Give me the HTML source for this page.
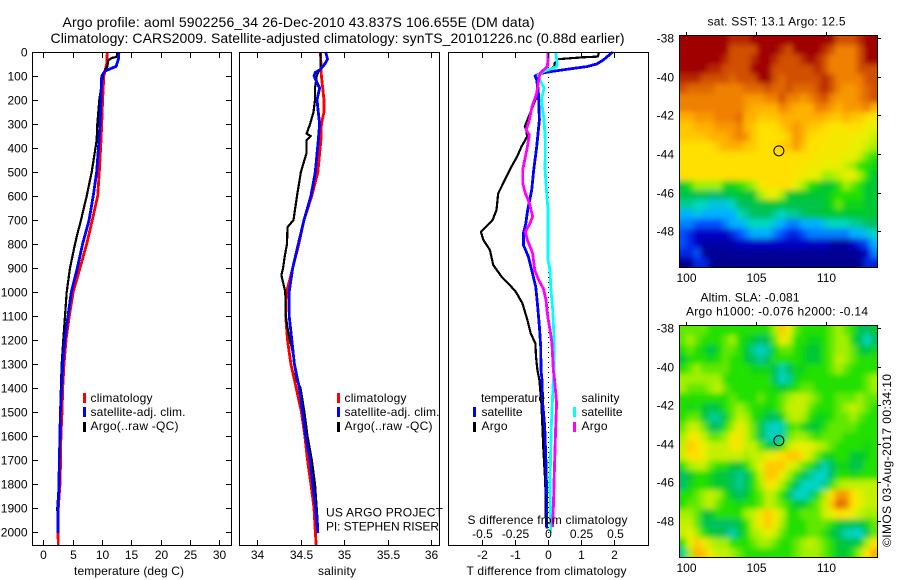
<!DOCTYPE html>
<html lang="en">
<head>
<meta charset="utf-8">
<title>Argo profile 5902256_34</title>
<style>
html,body{margin:0;padding:0;background:#fff;}
svg{display:block;font-family:"Liberation Sans",sans-serif;font-size:12px;fill:#000;}
.line{fill:none;stroke-width:2.8;shape-rendering:crispEdges;stroke-linejoin:round;}
.thin{stroke-width:2.2;}
.frame{fill:none;stroke:#000;stroke-width:1;shape-rendering:crispEdges;}
.tick{stroke:#000;stroke-width:1;shape-rendering:crispEdges;}
</style>
</head>
<body>
<svg id="chart" xmlns="http://www.w3.org/2000/svg" width="900" height="580" viewBox="0 0 900 580">
<defs>
<filter id="soften" x="-10%" y="-10%" width="120%" height="120%"><feGaussianBlur stdDeviation="3"/></filter>
<clipPath id="clip-sst"><rect x="679" y="35" width="198" height="232"/></clipPath>
<clipPath id="clip-sla"><rect x="679" y="325" width="198" height="232"/></clipPath>
</defs>
<rect x="0" y="0" width="900" height="580" fill="#fff"/>
<text x="62.5" y="27" font-size="14" textLength="472">Argo profile: aoml 5902256_34 26-Dec-2010 43.837S 106.655E (DM data)</text>
<text x="50.5" y="43" font-size="14" textLength="574">Climatology: CARS2009. Satellite-adjusted climatology: synTS_20101226.nc (0.88d earlier)</text>

<g id="p1"></g>
<g id="p2"></g>
<g id="p3"></g>

<g>
<rect x="83" y="393" width="3" height="10" fill="#f00"/>
<rect x="83" y="407" width="3" height="10" fill="#00f"/>
<rect x="83" y="422" width="3" height="10" fill="#000"/>
<text x="90.5" y="402" textLength="62">climatology</text>
<text x="90.5" y="416" textLength="95">satellite-adj. clim.</text>
<text x="90.5" y="430" textLength="88">Argo(..raw -QC)</text>
</g>
<g>
<rect x="337" y="393" width="3" height="10" fill="#f00"/>
<rect x="337" y="407" width="3" height="10" fill="#00f"/>
<rect x="337" y="422" width="3" height="10" fill="#000"/>
<text x="344.5" y="402" textLength="62">climatology</text>
<text x="344.5" y="416" textLength="95">satellite-adj. clim.</text>
<text x="344.5" y="430" textLength="88">Argo(..raw -QC)</text>
</g>
<text x="326" y="516.5" textLength="117">US ARGO PROJECT</text>
<text x="326" y="530.5" textLength="113">PI: STEPHEN RISER</text>
<g>
<text x="481" y="402" textLength="64">temperature</text>
<text x="581.5" y="402" textLength="38">salinity</text>
<rect x="473" y="407" width="3" height="10" fill="#00f"/>
<rect x="473" y="422" width="3" height="10" fill="#000"/>
<rect x="573" y="407" width="3" height="10" fill="#0ff"/>
<rect x="573" y="422" width="3" height="10" fill="#f0f"/>
<text x="481.5" y="416" textLength="41">satellite</text>
<text x="481.5" y="430" textLength="26">Argo</text>
<text x="581.5" y="416" textLength="41">satellite</text>
<text x="581.5" y="430" textLength="26">Argo</text>
</g>
<text x="467.5" y="524" textLength="160">S difference from climatology</text>
<text x="74" y="575" textLength="110">temperature (deg C)</text>
<text x="318" y="575" textLength="38">salinity</text>
<text x="466.5" y="575" textLength="160">T difference from climatology</text>

<g id="m1"></g>
<g id="m2"></g>
<text x="707.5" y="25.5" textLength="138">sat. SST: 13.1  Argo: 12.5</text>
<text x="700.5" y="301.5" textLength="99">Altim. SLA: -0.081</text>
<text x="686" y="315.5" textLength="182">Argo h1000: -0.076 h2000: -0.14</text>
<text transform="translate(891 547) rotate(-90)" textLength="173">©IMOS 03-Aug-2017 00:34:10</text>
</svg>
<script>
// ---- tick labels ----
const depthTicks = [0,100,200,300,400,500,600,700,800,900,1000,1100,1200,1300,1400,1500,1600,1700,1800,1900,2000];
const tempTicks = [0,5,10,15,20,25,30];
const salTicks = [34,34.5,35,35.5,36];
const tDiffTicks = [-2,-1,0,1,2];
const sDiffTicks = [-0.5,-0.25,0,0.25,0.5];
const lonTicks = [100,105,110];
const latTicks = [38,40,42,44,46,48];
const profileLon = 106.655;
const profileLat = 43.837;

// ---- temperature profiles ----
const tClimDepth = [0,50,100,200,300,367,500,600,700,800,900,1000,1100,1200,1300,1400,1500,1600,1700,1800,1900,2000,2054];
const tClimValue = [10.9,10.8,10.3,10.1,9.95,9.83,9.54,9.26,8.35,7.39,6.25,5.1,4.43,3.87,3.53,3.3,3.18,3.0,2.95,2.84,2.56,2.5,2.55];
const tSatDepth = [0,30,60,70,80,100,200,300,367,500,600,700,800,900,1000,1100,1200,1300,1400,1500,1600,1700,1800,1900,2005];
const tSatValue = [12.9,12.8,12.4,11.4,10.5,9.95,9.83,9.66,9.49,9.1,8.5,7.8,6.7,5.8,4.77,4.2,3.64,3.3,3.13,2.9,2.85,2.72,2.67,2.5,2.5];
const tArgoDepth = [0,20,25,35,60,90,200,300,367,500,600,700,760,800,900,1000,1100,1200,1300,1400,1500,1600,1700,1800,1900,1980];
const tArgoValue = [12.6,12.5,11.65,11.07,10.9,10.2,9.54,9.2,9.1,8.24,7.4,6.42,5.8,5.4,4.55,3.98,3.7,3.4,3.13,3.0,2.9,2.85,2.67,2.67,2.39,2.45];

// ---- salinity profiles ----
const sClimDepth = [0,100,150,200,250,300,367,500,600,700,800,900,1000,1100,1200,1300,1400,1500,1600,1700,1800,1900,2000,2054];
const sClimValue = [34.73,34.74,34.755,34.77,34.77,34.74,34.735,34.70,34.63,34.54,34.48,34.41,34.34,34.33,34.35,34.39,34.45,34.51,34.55,34.58,34.62,34.655,34.67,34.68];
const sSatDepth = [0,30,50,75,85,100,150,200,300,367,500,600,700,800,900,1000,1100,1200,1300,1400,1500,1600,1700,1800,1900,2005];
const sSatValue = [34.79,34.81,34.78,34.72,34.67,34.655,34.72,34.69,34.72,34.705,34.67,34.62,34.54,34.475,34.41,34.37,34.37,34.4,34.43,34.486,34.525,34.56,34.61,34.64,34.675,34.7];
const sArgoDepth = [0,70,85,100,150,200,250,300,340,350,367,420,500,600,700,730,800,850,900,930,1000,1100,1170,1250,1367,1400,1500,1600,1700,1800,1900,1980];
const sArgoValue = [34.73,34.73,34.705,34.686,34.667,34.667,34.65,34.61,34.57,34.617,34.57,34.57,34.505,34.46,34.42,34.35,34.345,34.32,34.3,34.28,34.325,34.33,34.36,34.41,34.455,34.5,34.545,34.58,34.63,34.667,34.686,34.7];

// ---- differences from climatology ----
const dtArgoDepth = [0,19,22,30,47,58,82,96,124,172,228,311,325,353,395,436,485,547,589,658,700,749,783,825,887,936,971,999,1047,1117,1172,1214,1269,1325,1367,1464,1658,1797,1979];
const dtArgoValue = [1.54,1.5,1.05,0.3,0.2,0.2,0,-0.34,-0.34,-0.3,-0.46,-0.7,-0.65,-0.63,-0.8,-0.93,-1.13,-1.35,-1.5,-1.55,-1.67,-2.02,-1.95,-1.75,-1.65,-1.4,-1.15,-0.97,-0.77,-0.62,-0.52,-0.38,-0.36,-0.32,-0.26,-0.2,-0.14,-0.08,-0.06];
const dtSatDepth = [0,33,50,61,72,82,90,100,124,172,283,395,492,575,658,714,756,804,853,908,978,1047,1144,1228,1325,1367,1464,1561,1714,1853,1986];
const dtSatValue = [1.95,1.67,1.47,1.17,0.57,0.06,-0.24,-0.39,-0.32,-0.29,-0.26,-0.34,-0.43,-0.49,-0.61,-0.67,-0.74,-0.74,-0.59,-0.49,-0.37,-0.32,-0.26,-0.22,-0.21,-0.18,-0.16,-0.1,-0.06,-0.04,-0.04];
const dsSatDepth = [0,47,61,82,96,117,150,200,283,367,492,589,658,749,867,908,978,1075,1186,1325,1367,1464,1561,1658,1797,1979,2005];
const dsSatValue = [0.058,0.07,0.066,-0.036,-0.075,-0.06,-0.03,-0.05,-0.03,-0.02,-0.022,-0.01,0,0,0,0.015,0.02,0.035,0.045,0.047,0.04,0.032,0.025,0.02,0.015,0.02,0.02];
const dsArgoDepth = [0,33,61,88,117,172,228,283,325,345,395,492,547,589,630,686,714,749,783,839,908,950,985,1033,1089,1158,1214,1325,1367,1464,1561,1658,1797,1908,1979];
const dsArgoValue = [0,0,-0.005,-0.06,-0.07,-0.085,-0.12,-0.14,-0.165,-0.14,-0.155,-0.19,-0.19,-0.17,-0.14,-0.115,-0.135,-0.17,-0.155,-0.115,-0.1,-0.07,-0.035,-0.015,-0.005,0.015,0.03,0.04,0.05,0.065,0.058,0.053,0.045,0.04,0.035];

// ---- map grids (colour-scale levels, north row first) ----
const sstRows = [
[14,14,14,14,14,14,14,13.5,13.5,13.5,14,14,14,14,14,14,14,14,14,14,14,14,13,13,13,13.5,14,14],
[14,14,14,14,14,14,14,13,13,13,13,14,14,14,13.5,13,14,14,14,14,13.5,13,12,12,12,13,14,14],
[14,14,14,14,14,14,13.5,13,13,13,13.5,14,14,13.5,13,13,13,13.5,14,13.5,13,12,12,12,12,13,14,14],
[14,14,14,14,13.5,13.5,13,13,13,13,14,14,14,13,13,13,13,13,13,13.5,13,12,12,12,12,13,13,13],
[13.5,13.5,13.5,13,13,13,13,12.5,13,13,13,14,14,13,12.5,13,13,13,13,13,13.5,13,12,12,12,12,13,13],
[13,12.5,12.5,12.5,12.5,12,12,12,12,12.5,12.5,12.5,13,12.5,12.5,13,12.5,12.5,12.5,13,13.5,13,12,11.5,11.5,12,12.5,13],
[12,12,12,12,12,12,12,12,12,11.5,11.5,11.5,12,12,13,12,12,11.5,12,12.5,13,12,11.5,11.5,11.5,12,12.5,13],
[12,12,12,12,12,12,12,12,12,11.5,11,11,11,11,12,11.5,11,11,11,12,12,11.5,11,11.5,11.5,11.5,12,11],
[11,11,11.5,11.5,11.5,12,12,12,12.5,11,11,10.5,10.5,10.5,11,11,11,11,11,11,11,10.5,10.5,11,10.5,10.5,10,9.5],
[10.5,10.5,11,11,11,11.5,11.5,11.5,12,11,10.5,10,10,10,10.5,11,11.5,11,10.5,10.5,10,10,9.5,10,10,10,9,9],
[10.5,10.5,10.5,10.5,11,11,11,11.5,12,11.5,10.5,10,10,10,10,10.5,11.5,11,10,10,10,9.5,9.5,9.5,9.5,9,9,8.5],
[10,10,10,10,10,10.5,11,11,11,10.5,10.5,10,10,10,10.5,10.5,11.5,10.5,10,10,9.5,9.5,9.5,9.5,9,9,8.5,8],
[10,10,10,10,10,10,10,10,10,10,10,10,10,10,10,10,10,10,10,9.5,9.5,9.5,9.5,9,9,8.5,7.5,7],
[10,10,10,10,10,10,10,10,10,10,10,10,10,10,10,10,10,9.5,9.5,9.5,9,9,9,8.5,8,7,7,6.5],
[10,10,10,10,10,10,10,10,10,10,10,10,10,10,10,10,9.5,9.5,9,9,8,8,8.5,9,9,8,7,6],
[6,7,8,8,8,8,6.5,6.5,7,7.5,8,9.5,10,10,10,10,9,8,7,6.5,6,6,7,8,7.5,7,6,6],
[5.5,5.5,5.5,5.5,5,5,5.5,5.5,6,6,6,8,9,9,8,6,6,6,6,6,6,6.5,7,7,7,7,6,6],
[4.5,4.5,4,4,3.5,3.5,3.5,4,5,5,5.5,5.5,6,6,6,5.5,5.5,5.5,5.5,5.5,6,6.5,7.5,6.5,6.5,6.5,6,6],
[3,3,3.5,3,3,3,3,3,4,4.5,5,5,5,4.5,4,4.5,4.5,5,5.5,5.5,6,6,6,6,6,6,6,6],
[2.5,2.5,2,2,2,2,2.5,3,3,3.5,4,4,4,3.5,3,2.5,2.5,3,3,3,3.5,4,4,4,4.5,4.5,5,5],
[2,1.5,1,1,1,1,1,1.5,2,2.5,3,3,3,2.5,2,1.5,1.5,2,2.5,2.5,2.5,2.5,2.5,2.5,3,3,3.5,4],
[2,1.5,1,0.5,0.5,0.5,0.5,0.5,1,1,1,1,1,1,1,1,1,1,1,1,1,0.5,0.5,0.5,1,1.5,2,3],
[1.5,1.5,2,0.3,0.3,0.3,0.3,0.3,0.3,0.3,0.3,0.3,0.3,0.3,0.3,0.3,0.3,0.3,0.3,0.3,0.3,0.3,0.3,0.3,0.3,0.5,1,2.5],
[0.3,0.3,1.5,1.5,0.3,0.2,0.2,0.2,0.2,0.2,0.2,0.2,0.2,0.2,0.2,0.2,0.2,0.2,0.2,0.2,0.2,0.2,0.2,0.2,0.2,0.2,1.5,1.5]
];
const slaRows = [
[7.5,7.5,7.5,7.5,7,7,7,7,7,7,7,7,7,8,10.5,9,7.5,7,7,7,7,7.5,8,7.5,7,5.5,5,6],
[7.5,8,7.5,7,7,7,7.5,8,7,6.5,6,5,5.5,7.5,9.5,8.5,7,7,6.5,6.5,7,7.5,8,8,6.5,5,4,5],
[7,7.5,7,6.5,5.5,6.5,7.5,7.5,7,6,4.5,3.8,4.5,6.5,7.5,7.5,7,6.5,6,6,7,7.5,8,8,7.5,6,5.5,6.5],
[6,7,7,7,6.5,7,7.5,7,7,6,5,4.5,5,7,7,7,7,6.5,6,6,7,7.5,8.5,8,7.5,7,7,7],
[7,7.5,8,7.5,7.5,7.5,7.5,7,7,7,6.5,6.5,6.5,5.5,4.2,5,6.5,6.5,7,7,7,7.5,8,7.5,7,7,7,7],
[8,8,8,8,8,8,7,7,7,7,7,7,7,5,3.9,4.5,6.5,7,7,7,7,7,7,7,7,7,7.5,8],
[8,7.5,7.5,7.5,8,8.5,7.5,7,7,7,7,7,7,6.5,6,6.5,7,7.5,7.5,7,7,7,7,7,7,7,7.5,8],
[7,7,7,7,7,7,7,7.5,7,7,7,7.5,7,7,7.5,8,8.5,8.5,8,7.5,7,7,7.5,7.5,7.5,8,7.5,7.5],
[7,6.5,7,6,5.5,6,7,7.5,8,7.5,7,7,6.5,7,7.5,8.5,8.5,8.5,7.5,7,7,7,7.5,8,8.5,8,7.5,7],
[7,7.5,7.5,6,4.5,4.5,6,7.5,8.5,8,7,6.5,5.5,5,6.5,8,8.5,8,7,6.5,6.5,7,7.5,7.5,8,7.5,7,7],
[7.5,8.5,8.5,7.5,5.5,5,7,8,9,8.5,7.5,5.5,4.2,3.8,4.2,7,7.5,6.5,6,6,7,7.5,7.5,7.5,7.5,7,7,7],
[8,9.5,9.5,8.5,7.5,7.5,8,9.5,9.5,8.5,7.5,5.5,4.2,3.8,4.5,7.5,8,8,7.5,7,7.5,7.5,7.5,7,7,7,7,7],
[8.5,10.5,10,9,8.5,8.5,8.5,9.5,9.5,8.5,8.5,7.5,6,5.5,7,8.5,9,9,9,8.5,8,7.5,7,7,7,7,6.5,7],
[8.5,10,10,9,8.5,8.5,8.5,8.5,8.5,8,8.5,8.5,9,9.5,10,10.5,10.5,9.5,8.5,7.5,6.5,6.5,7,7,6,6,6.5,7],
[7,8,8.5,8.5,7.5,7,7,6,6,7,8,9,10.5,10.5,10.5,9,8.5,7.5,7,5.5,4.2,5,6.5,6.5,5.5,5.5,7,7],
[5,6,7,7,6.5,6,5.5,5,4.5,5,7,8.5,10.5,10.5,9,8,7,5.5,4.5,3.9,3.9,5,7,7,6.5,7,7,7],
[5,6.5,7,7,6.5,6,6,5,4.5,5.5,7,8,10,9,8,7,5,3.9,3.9,3.9,4.5,7,8,8.5,8.5,8.5,8.5,8.5],
[7,7,7.5,8,8.5,8,7,6,5,6,7,7.5,8.5,8,7,5.5,3.9,3.9,4.5,6.5,8,10,11.5,11.5,10,9,8.5,8.5],
[7,7.5,7.5,8,8.5,7.5,7,7,6.5,7,7,7.5,8.5,8,7.5,7,6,6,7,7.5,8.5,10.5,12.5,12,10,9,8.5,8.5],
[8,8,7.5,6,6,7,7,7,7,8,8.5,9.5,10.5,9.5,8.5,7,7,7.5,7.5,7.5,8.5,9,10,9.5,9,8.5,8,8],
[8.5,8.5,7.5,5.5,5,5,5,5,6,7,8.5,9.5,10.5,9.5,8,7,7,7,7.5,7.5,7.5,7,6,5.5,5.5,5.5,6.5,7.5],
[8.5,9,8,7,6,5.5,5,4.2,5.5,7,8,8.5,9,8.5,7.5,7,7,7,7.5,7.5,7,6,5,4.2,3.9,3.8,5.5,7.5],
[7,9,10.5,9.5,8.5,8,8,7,7,7,7.5,8,8,7.5,7,7,7.5,8,8.5,8,7.5,7,6,5.5,5.5,6,8,10],
[4.5,8,11,10.5,9,8.5,8.5,8,7.5,7,7,7,7,7,7,7,7.5,8,8,8,7.5,7,6,6,7,8,10,11]
];
const colourStops = ['#000080','#0000c8','#0050ff','#00b0ff','#00d8c0','#00c060','#00c830','#20e000','#a0f000','#e8f000','#ffe000','#ffb000','#f08000','#d05000','#a00000'];

// ---- axis functions ----
const NS = 'http://www.w3.org/2000/svg';
const svg = document.getElementById('chart');
const depthY = d => 52 + d * 0.24;
const tempX = t => 43.3 + t * 5.87;
const salX = s => 257 + (s - 34) * 87;
const tDiffX = t => 548 + t * 33.2;
const sDiffX = s => 548 + s * 133;
const lonX = lon => 685.7 + (lon - 100) * 14;
const sstLatY = lat => 38 + (lat - 38) * 19.33;
const slaLatY = lat => 328 + (lat - 38) * 19.3;

function make(tag, attrs, parent) {
  const el = document.createElementNS(NS, tag);
  for (const k in attrs) el.setAttribute(k, attrs[k]);
  parent.appendChild(el);
  return el;
}
function tickLine(parent, x1, y1, x2, y2) {
  const el = make('line', {x1: x1, y1: y1, x2: x2, y2: y2, class: 'tick'}, parent);
  
  
  return el;
}
function tickText(parent, x, y, anchor, content) {
  const el = make('text', {x: x, y: y, 'text-anchor': anchor}, parent);
  el.textContent = content;
  
  
  return el;
}
function frame(parent, x, y, w, h) {
  const el = make('rect', {x: x, y: y, width: w, height: h, class: 'frame'}, parent);
  
  
  return el;
}
function profile(parent, depths, values, xFn, colour, cls) {
  const pts = depths.map((d, i) => xFn(values[i]).toFixed(1) + ',' + depthY(d).toFixed(1)).join(' ');
  const el = make('polyline', {points: pts, stroke: colour, class: cls}, parent);
  
  
  return el;
}
function fmt(v) { return String(v); }

// ---- profile panels ----
const p1 = document.getElementById('p1');
const p2 = document.getElementById('p2');
const p3 = document.getElementById('p3');
profile(p1, tClimDepth, tClimValue, tempX, '#f00', 'line');
profile(p1, tArgoDepth, tArgoValue, tempX, '#000', 'line thin');
profile(p1, tSatDepth, tSatValue, tempX, '#00f', 'line');
frame(p1, 32.5, 52.5, 199, 493);
depthTicks.forEach(d => {
  const y = Math.round(depthY(d)) + 0.5;
  tickLine(p1, 33, y, 38, y);
  tickLine(p1, 226, y, 231, y);
  tickText(p1, 27.5, y + 4, 'end', fmt(d));
});
tempTicks.forEach(t => {
  const x = Math.round(tempX(t)) + 0.5;
  tickLine(p1, x, 53, x, 58);
  tickLine(p1, x, 540, x, 545);
  tickText(p1, x, 559, 'middle', fmt(t));
});

profile(p2, sClimDepth, sClimValue, salX, '#f00', 'line');
profile(p2, sArgoDepth, sArgoValue, salX, '#000', 'line thin');
profile(p2, sSatDepth, sSatValue, salX, '#00f', 'line');
frame(p2, 239.5, 52.5, 200, 493);
salTicks.forEach(s => {
  const x = Math.round(salX(s)) + 0.5;
  tickLine(p2, x, 53, x, 58);
  tickLine(p2, x, 540, x, 545);
  tickText(p2, x, 559, 'middle', fmt(s));
});

const zeroLine = make('line', {x1: 548.5, y1: depthY(0), x2: 548.5, y2: 545, stroke: '#000', 'stroke-width': 1, 'stroke-dasharray': '1 4', 'shape-rendering': 'crispEdges'}, p3);


profile(p3, dtArgoDepth, dtArgoValue, tDiffX, '#000', 'line thin');
profile(p3, dtSatDepth, dtSatValue, tDiffX, '#00f', 'line');
profile(p3, dsSatDepth, dsSatValue, sDiffX, '#0ff', 'line');
profile(p3, dsArgoDepth, dsArgoValue, sDiffX, '#f0f', 'line');
frame(p3, 448.5, 52.5, 200, 493);
tDiffTicks.forEach(t => {
  const x = Math.round(tDiffX(t)) + 0.5;
  tickLine(p3, x, 53, x, 58);
  tickLine(p3, x, 540, x, 545);
  tickText(p3, x, 559, 'middle', fmt(t));
});
sDiffTicks.forEach(s => {
  const x = Math.round(sDiffX(s)) + 0.5;
  tickText(p3, x, 538, 'middle', fmt(s));
});

// ---- maps ----
function hexToRgb(h) {
  return [parseInt(h.slice(1, 3), 16), parseInt(h.slice(3, 5), 16), parseInt(h.slice(5, 7), 16)];
}
function levelColour(v) {
  const lo = Math.max(0, Math.min(colourStops.length - 1, Math.floor(v)));
  const hi = Math.min(colourStops.length - 1, lo + 1);
  const f = v - lo;
  const a = hexToRgb(colourStops[lo]);
  const b = hexToRgb(colourStops[hi]);
  return 'rgb(' + a.map((c, i) => Math.round(c + (b[i] - c) * f)).join(',') + ')';
}
function drawMap(group, rows, latY, top, clipId) {
  const west = 100 - 6.4 / 14;
  const dLon = 198.4 / 14 / 28;
  const dLat = 232 / (latY(39) - latY(38)) / 24;
  const north = 38 - (latY(38) - top) / (latY(39) - latY(38));
  const bleed = 14;
  const clip = make('g', {'clip-path': 'url(#' + clipId + ')'}, group);
  
  
  const soft = make('g', {filter: 'url(#soften)'}, clip);
  
  
  rows.forEach((row, r) => {
    row.forEach((v, c) => {
      let x = lonX(west + c * dLon);
      let y = latY(north + r * dLat);
      let w = dLon * 14 + 0.6;
      let h = (latY(39) - latY(38)) * dLat + 0.6;
      if (c === 0) { x -= bleed; w += bleed; }
      if (c === row.length - 1) { w += bleed; }
      if (r === 0) { y -= bleed; h += bleed; }
      if (r === rows.length - 1) { h += bleed; }
      const cell = make('rect', {x: x.toFixed(2), y: y.toFixed(2), width: w.toFixed(2), height: h.toFixed(2), fill: levelColour(v), 'shape-rendering': 'crispEdges'}, soft);
      
      
    });
  });
  const marker = make('circle', {cx: lonX(profileLon), cy: latY(profileLat), r: 5, fill: 'none', stroke: '#000', 'stroke-width': 1}, group);
  
  
}
function mapAxes(group, latY, top, bottom) {
  frame(group, 679.5, top + 0.5, 198, bottom - top);
  latTicks.forEach(lat => {
    const y = Math.round(latY(lat)) + 0.5;
    tickLine(group, 878, y, 881, y);
    tickText(group, 674, y + 4, 'end', '-' + lat);
  });
  lonTicks.forEach(lon => {
    const x = Math.round(lonX(lon)) + 0.5;
    tickLine(group, x, top - 3, x, top);
    tickText(group, x, bottom + 15, 'middle', fmt(lon));
  });
}
const m1 = document.getElementById('m1');
const m2 = document.getElementById('m2');
drawMap(m1, sstRows, sstLatY, 35.3, 'clip-sst');
mapAxes(m1, sstLatY, 35, 267);
drawMap(m2, slaRows, slaLatY, 325.5, 'clip-sla');
mapAxes(m2, slaLatY, 325, 557);
</script>
</body>
</html>
